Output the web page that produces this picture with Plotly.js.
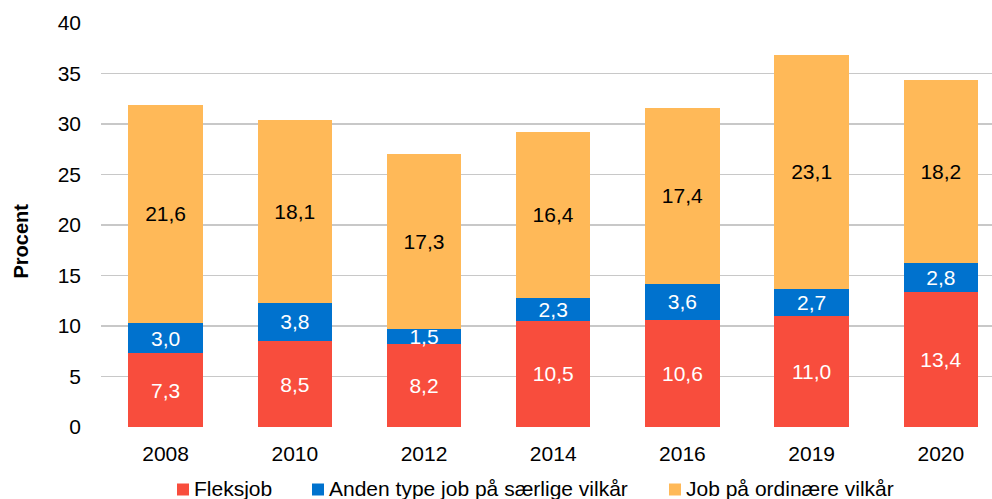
<!DOCTYPE html>
<html>
<head>
<meta charset="utf-8">
<script src="https://cdn.plot.ly/plotly-3.0.1.min.js"></script>
<style>html,body{margin:0;padding:0;background:#fff;}#chart{width:992px;height:499px;}</style>
</head>
<body>
<div id="chart"></div>
<script>
const years = ['2008','2010','2012','2014','2016','2019','2020'];
const fleksjob = [7.3, 8.5, 8.2, 10.5, 10.6, 11.0, 13.4];
const andenType = [3.0, 3.8, 1.5, 2.3, 3.6, 2.7, 2.8];
const ordinaere = [21.6, 18.1, 17.3, 16.4, 17.4, 23.1, 18.2];
const seriesNames = ['Fleksjob', 'Anden type job på særlige vilkår', 'Job på ordinære vilkår'];
const seriesColors = ['#F84D3D', '#0072CE', '#FFB958'];
const yTicks = [0, 5, 10, 15, 20, 25, 30, 35, 40];

const fmt = v => v.toFixed(1).replace('.', ',');
const FONT = 'Liberation Sans, Arial, sans-serif';
const FS = 21;

function trace(vals, name, color, textColor) {
  return {
    type: 'bar', x: years, y: vals, name: name,
    marker: {color: color, line: {width: 0}},
    text: vals.map(fmt), textposition: 'inside', insidetextanchor: 'middle',
    constraintext: 'none', textangle: 0,
    textfont: {family: FONT, size: FS, color: textColor},
    hoverinfo: 'skip'
  };
}

const data = [
  trace(fleksjob, seriesNames[0], seriesColors[0], '#ffffff'),
  trace(andenType, seriesNames[1], seriesColors[1], '#ffffff'),
  trace(ordinaere, seriesNames[2], seriesColors[2], '#000000')
];

// plot area geometry in pixels (for placing the hand-made legend)
const PL = 101, PW = 891, PT = 23, PH = 404;
const px2x = p => (p - PL) / PW;
const px2y = p => (PT + PH - p) / PH;

const legendSquares = [177, 312, 669];
const shapes = [], annotations = [];
seriesNames.forEach((n, i) => {
  const sx = legendSquares[i];
  shapes.push({type: 'rect', xref: 'paper', yref: 'paper',
    x0: px2x(sx), x1: px2x(sx + 12), y0: px2y(495.5), y1: px2y(483.5),
    fillcolor: seriesColors[i], line: {width: 0}, layer: 'above'});
  annotations.push({xref: 'paper', yref: 'paper', x: px2x(sx + 15), y: px2y(489),
    xanchor: 'left', yanchor: 'middle', text: n, showarrow: false,
    font: {family: FONT, size: FS, color: '#000'}});
});
annotations.push({xref: 'paper', yref: 'paper', x: px2x(21), y: px2y(241.5),
  xanchor: 'center', yanchor: 'middle', textangle: -90, text: '<b>Procent</b>',
  showarrow: false, font: {family: FONT, size: 20, color: '#000'}});

const layout = {
  width: 992, height: 499,
  margin: {l: PL, r: 0, t: PT, b: 499 - PT - PH, pad: 0},
  paper_bgcolor: '#ffffff', plot_bgcolor: '#ffffff',
  barmode: 'stack', bargap: 0.423,
  font: {family: FONT, size: FS, color: '#000'},
  showlegend: false,
  shapes: shapes, annotations: annotations,
  xaxis: {
    type: 'category', range: [-0.5, 6.396], autorange: false,
    showgrid: false, zeroline: false, showline: false,
    ticks: '', tickfont: {family: FONT, size: FS, color: '#000'},
    ticklabelstandoff: 12, automargin: false
  },
  yaxis: {
    range: [0, 40], autorange: false, tickvals: yTicks,
    ticktext: yTicks.map(String),
    showgrid: true, gridcolor: '#C8C8C8', gridwidth: 1.5,
    zeroline: false, showline: false, ticks: '',
    tickfont: {family: FONT, size: FS, color: '#000'},
    ticklabelstandoff: 19, automargin: false
  }
};

Plotly.newPlot('chart', data, layout, {displayModeBar: false, staticPlot: true});
</script>
</body>
</html>
